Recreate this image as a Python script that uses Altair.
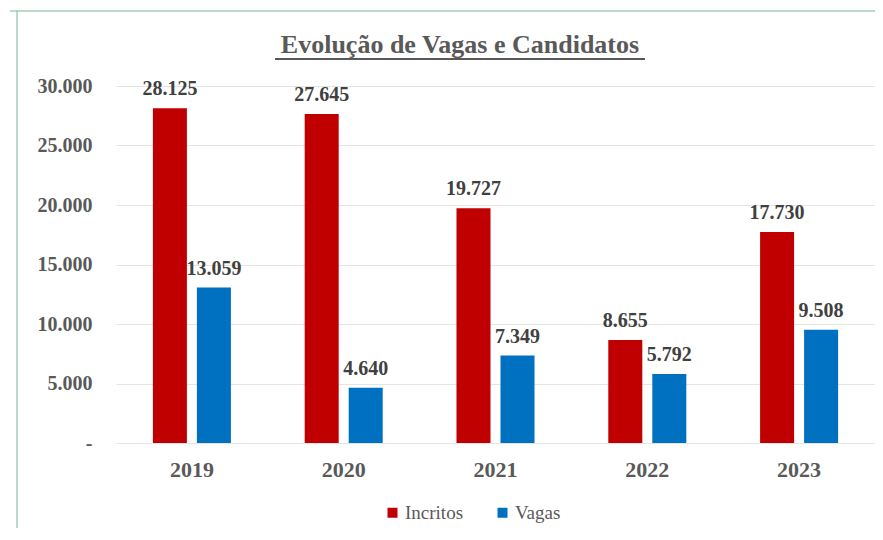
import altair as alt
import pandas as pd

years = ["2019", "2020", "2021", "2022", "2023"]
inscritos = [28125, 27645, 19727, 8655, 17730]
vagas = [13059, 4640, 7349, 5792, 9508]
series_names = ["Incritos", "Vagas"]
colors = ["#C00000", "#0070C0"]
y_ticks = [0, 5000, 10000, 15000, 20000, 25000, 30000]
title_text = "Evolução de Vagas e Candidatos"

rows = []
for i, yr in enumerate(years):
    rows.append({"ano": yr, "serie": series_names[0], "valor": inscritos[i]})
    rows.append({"ano": yr, "serie": series_names[1], "valor": vagas[i]})
df = pd.DataFrame(rows)

W, H = 759, 357
FONT = "'Liberation Serif', 'Times New Roman', 'DejaVu Serif', serif"
GRAY = "#595959"

x_enc = alt.X(
    "ano:N", sort=years,
    scale=alt.Scale(paddingInner=0.486, paddingOuter=0.243),
    axis=alt.Axis(title=None, labelAngle=0, domain=False, ticks=False,
                  labelFont=FONT, labelFontSize=22, labelFontWeight="bold",
                  labelColor=GRAY, labelPadding=16),
)
xoff = alt.XOffset("serie:N", sort=series_names,
                   scale=alt.Scale(paddingInner=0.227, paddingOuter=0))
y_enc = alt.Y(
    "valor:Q", scale=alt.Scale(domain=[0, 30000]),
    axis=alt.Axis(values=y_ticks, title=None, domain=False, ticks=False,
                  labelExpr="datum.value == 0 ? '-' : replace(format(datum.value, ','), ',', '.')",
                  gridColor="#e4e4e4", labelPadding=24,
                  labelFont=FONT, labelFontSize=20, labelFontWeight="bold",
                  labelColor=GRAY),
)

base = alt.Chart(df)

bars = base.mark_bar().encode(
    x=x_enc, xOffset=xoff, y=y_enc,
    color=alt.Color("serie:N",
                    scale=alt.Scale(domain=series_names, range=colors),
                    legend=alt.Legend(orient="none", legendX=267, legendY=417,
                                      direction="horizontal", title=None,
                                      symbolType="square", symbolSize=100,
                                      symbolStrokeWidth=0, labelOffset=3,
                                      columnPadding=29,
                                      labelFont=FONT, labelFontSize=19,
                                      labelColor=GRAY)),
)

labels = base.transform_calculate(
    label="replace(format(datum.valor, ','), ',', '.')"
).mark_text(dy=-13, baseline="alphabetic", font=FONT, fontSize=20,
            fontWeight="bold", color="#404040").encode(
    x=x_enc, xOffset=xoff, y=y_enc, text="label:N"
)

one = pd.DataFrame({"t": [title_text]})
title = alt.Chart(one).mark_text(font=FONT, fontSize=26, fontWeight="bold",
                                 color=GRAY, align="center",
                                 baseline="alphabetic").encode(
    x=alt.value(344), y=alt.value(-33), text="t:N"
)
underline = alt.Chart(one).mark_rule(color=GRAY, strokeWidth=2).encode(
    x=alt.value(344 - 185), x2=alt.value(344 + 185), y=alt.value(-27)
)
frame_top = alt.Chart(one).mark_rule(color="#79b594", strokeWidth=1).encode(
    x=alt.value(-106), x2=alt.value(W + 20), y=alt.value(-75)
)
frame_left = alt.Chart(one).mark_rule(color="#79b594", strokeWidth=1).encode(
    x=alt.value(-99), y=alt.value(-75), y2=alt.value(H + 200)
)

chart = alt.layer(frame_top, frame_left, title, underline, bars, labels).properties(
    width=W, height=H,
    autosize=alt.AutoSizeParams(type="none"),
    padding={"left": 108, "top": 78, "right": 0, "bottom": 85},
).configure_view(stroke=None)

chart.save("out.html", embed_options={"renderer": "svg", "actions": False})
